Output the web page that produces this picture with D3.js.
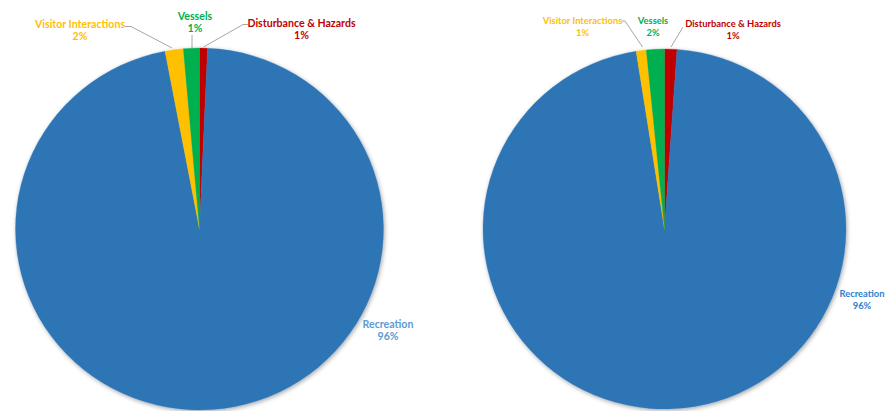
<!DOCTYPE html>
<html>
<head>
<meta charset="utf-8">
<script src="https://cdn.jsdelivr.net/npm/d3@7/dist/d3.min.js"></script>
<style>
  html, body { margin: 0; padding: 0; background: #fff; }
  svg { display: block; }
  text { font-family: "Lato", "Open Sans", sans-serif; font-weight: 700; }
</style>
</head>
<body>
<svg id="chart" width="893" height="411"></svg>
<script>
// Incident categories, in clockwise order from 12 o'clock
const categories = ["Disturbance & Hazards", "Recreation", "Visitor Interactions", "Vessels"];
// Share of incidents (%) for each of the two periods
const leftValues  = [0.7, 96.3, 1.6, 1.4];
const rightValues = [1.1, 96.4, 0.9, 1.6];
// Percent labels as printed
const leftLabels  = ["1%", "96%", "2%", "1%"];
const rightLabels = ["1%", "96%", "1%", "2%"];

const sliceColors = {
  "Disturbance & Hazards": "#C00000",
  "Recreation": "#2E75B6",
  "Visitor Interactions": "#FFC000",
  "Vessels": "#00B050"
};

const svg = d3.select("#chart");

const defs = svg.append("defs");
defs.append("filter")
  .attr("id", "pieShadow")
  .attr("x", "-10%").attr("y", "-10%").attr("width", "120%").attr("height", "120%")
  .append("feDropShadow")
  .attr("dx", 1).attr("dy", 1.5).attr("stdDeviation", 2.2)
  .attr("flood-color", "#000").attr("flood-opacity", 0.35);

// Layout of each pie: centre, radii, label placement and leader lines
const charts = [
  {
    values: leftValues, labels: leftLabels,
    cx: 199.5, cy: 229, rx: 184, ry: 181, fontSize: 10.6, lineGap: 12,
    recreationColor: "#5B9BD5",
    labelPos: {
      "Disturbance & Hazards": [301.5, 27],
      "Recreation": [388, 327.5],
      "Visitor Interactions": [80, 27.5],
      "Vessels": [195, 19.5]
    },
    leaders: {
      "Disturbance & Hazards": [[248, 24.5], [243, 24.5], [203.5, 47]],
      "Visitor Interactions": [[125, 26.5], [131, 26.5], [172, 48]],
      "Vessels": [[192, 35], [192, 48]]
    }
  },
  {
    values: rightValues, labels: rightLabels,
    cx: 664.5, cy: 229, rx: 181.5, ry: 180, fontSize: 9.4, lineGap: 12,
    recreationColor: "#2E80CC",
    labelPos: {
      "Disturbance & Hazards": [733, 27],
      "Recreation": [862, 296.5],
      "Visitor Interactions": [582.5, 24],
      "Vessels": [653, 24]
    },
    leaders: {
      "Disturbance & Hazards": [[683, 27], [671, 47]],
      "Visitor Interactions": [[621.5, 21], [625, 21], [642.5, 47]]
    }
  }
];

const pie = d3.pie().sort(null).value(d => d.value).startAngle(0).endAngle(2 * Math.PI);

charts.forEach(c => {
  const data = categories.map((name, i) => ({ name, value: c.values[i], label: c.labels[i] }));
  const arcs = pie(data);
  const arc = d3.arc().innerRadius(0).outerRadius(c.rx);

  // Pie drawn as a circle, then squeezed vertically into its ellipse
  const g = svg.append("g")
    .attr("transform", `translate(${c.cx},${c.cy}) scale(1,${c.ry / c.rx})`)
    .attr("filter", "url(#pieShadow)");

  g.selectAll("path")
    .data(arcs)
    .join("path")
    .attr("d", arc)
    .attr("fill", d => sliceColors[d.data.name])
    .attr("stroke", d => sliceColors[d.data.name])
    .attr("stroke-width", 0.3);

  // Leader lines
  const line = d3.line();
  Object.entries(c.leaders).forEach(([name, pts]) => {
    svg.append("path")
      .attr("d", line(pts))
      .attr("fill", "none")
      .attr("stroke", "#A6A6A6")
      .attr("stroke-width", 1);
  });

  // Category and percent labels
  data.forEach(d => {
    const [x, y] = c.labelPos[d.name];
    const color = d.name === "Recreation" ? c.recreationColor : sliceColors[d.name];
    const t = svg.append("text")
      .attr("x", x).attr("y", y)
      .attr("text-anchor", "middle")
      .attr("font-size", c.fontSize)
      .attr("fill", color);
    t.append("tspan").attr("x", x).attr("dy", 0).text(d.name);
    t.append("tspan").attr("x", x).attr("dy", c.lineGap).text(d.label);
  });
});
</script>
</body>
</html>
